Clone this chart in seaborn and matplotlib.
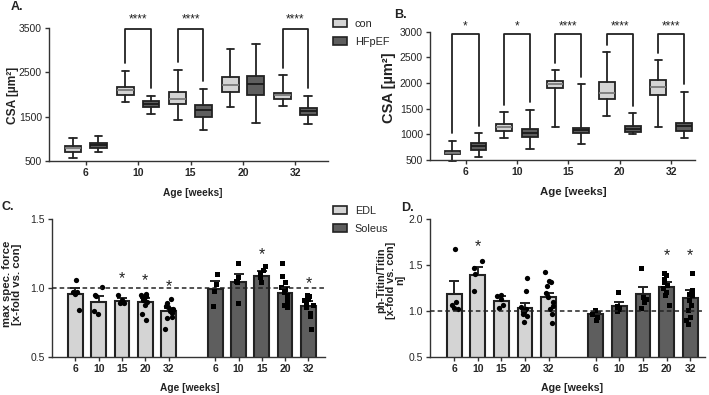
import numpy as np
import pandas as pd
import matplotlib
matplotlib.use('Agg')
import matplotlib.pyplot as plt
import seaborn as sns
from matplotlib.patches import Patch

# ---------------- data ----------------
ages = ['6', '10', '15', '20', '32']

# Panel A (box plots: whisker low, q1, median, q3, whisker high)
a_con_lo = [575, 1831, 1432, 1718, 1748]
a_con_q1 = [711, 1989, 1786, 2056, 1898]
a_con_med = [786, 2101, 1891, 2207, 1981]
a_con_q3 = [846, 2162, 2049, 2402, 2034]
a_con_hi = [1011, 2538, 2560, 3019, 2432]
a_hf_lo = [695, 1553, 1199, 1365, 1335]
a_hf_q1 = [801, 1711, 1500, 1996, 1538]
a_hf_med = [861, 1786, 1650, 2237, 1628]
a_hf_q3 = [914, 1853, 1756, 2417, 1703]
a_hf_hi = [1071, 1974, 2124, 3132, 1974]
a_sig = ['', '****', '****', '', '****']

# Panel B
b_con_lo = [480, 938, 1148, 1351, 1148]
b_con_q1 = [611, 1069, 1907, 1685, 1770]
b_con_med = [644, 1141, 1979, 1802, 1914]
b_con_q3 = [677, 1200, 2038, 2025, 2058]
b_con_hi = [873, 1429, 2247, 2601, 2444]
b_hf_lo = [565, 723, 814, 1004, 919]
b_hf_q1 = [696, 945, 1024, 1043, 1069]
b_hf_med = [768, 1017, 1082, 1109, 1154]
b_hf_q3 = [840, 1096, 1122, 1161, 1226]
b_hf_hi = [1024, 1482, 1973, 1416, 1829]
b_sig = ['*', '*', '****', '****', '****']

# Panel C (max spec. force)
c_edl_mean = [0.96, 0.90, 0.905, 0.895, 0.835]
c_edl_sem = [0.04, 0.044, 0.022, 0.032, 0.023]
c_sol_mean = [0.995, 1.045, 1.09, 0.966, 0.871]
c_sol_sem = [0.059, 0.055, 0.03, 0.04, 0.032]
c_edl_pts = [
    [1.06, 0.97, 0.97, 0.96, 0.84],
    [1.01, 0.95, 0.94, 0.83, 0.81],
    [0.95, 0.91, 0.90, 0.89, 0.89],
    [0.96, 0.95, 0.94, 0.93, 0.92, 0.91, 0.90, 0.88, 0.81, 0.77],
    [0.92, 0.89, 0.87, 0.86, 0.85, 0.84, 0.83, 0.82, 0.79, 0.78, 0.70],
]
c_sol_pts = [
    [1.10, 1.03, 0.98, 0.87],
    [1.18, 1.08, 1.05, 1.04, 0.89],
    [1.16, 1.13, 1.11, 1.08, 1.04],
    [1.18, 1.09, 1.04, 1.01, 0.99, 0.97, 0.95, 0.93, 0.92, 0.90, 0.88, 0.86],
    [0.95, 0.94, 0.93, 0.92, 0.91, 0.89, 0.88, 0.86, 0.82, 0.80, 0.70],
]
c_edl_star = [None, None, 1.066, 1.054, 1.01]
c_sol_star = [None, None, 1.24, None, 1.034]

# Panel D (ph-Titin/Titin)
d_edl_mean = [1.184, 1.393, 1.107, 1.037, 1.15]
d_edl_sem = [0.143, 0.085, 0.055, 0.055, 0.045]
d_sol_mean = [0.963, 1.051, 1.18, 1.257, 1.136]
d_sol_sem = [0.022, 0.048, 0.077, 0.063, 0.09]
d_edl_pts = [
    [1.67, 1.10, 1.07, 1.03, 1.02],
    [1.54, 1.47, 1.40, 1.22],
    [1.17, 1.16, 1.13, 1.07, 1.03],
    [1.36, 1.22, 1.04, 1.02, 1.00, 0.99, 0.97, 0.95, 0.88],
    [1.42, 1.33, 1.31, 1.27, 1.20, 1.15, 1.10, 1.05, 1.02, 0.97, 0.87],
]
d_sol_pts = [
    [1.01, 0.97, 0.93, 0.90],
    [1.21, 1.05, 1.03, 1.02, 1.00],
    [1.47, 1.15, 1.13, 1.10, 1.03],
    [1.41, 1.39, 1.35, 1.32, 1.28, 1.25, 1.21, 1.17, 1.06],
    [1.41, 1.23, 1.21, 1.19, 1.17, 1.12, 1.06, 1.01, 0.93, 0.90, 0.86],
]
d_edl_star = [None, 1.70, None, None, None]
d_sol_star = [None, None, None, 1.60, 1.60]

# ---------------- style ----------------
sns.set_style('ticks')
plt.rcParams['font.family'] = ['Liberation Sans', 'DejaVu Sans']
plt.rcParams['axes.linewidth'] = 1.0
plt.rcParams['axes.edgecolor'] = '#333333'

LIGHT = '#d4d4d4'
DARK = '#5e5e5e'
EDGE = '#222222'

W, H = 709, 395
fig = plt.figure(figsize=(W / 100, H / 100), dpi=100)


def rect(x0, x1, ytop, ybot):
    return [x0 / W, 1 - ybot / H, (x1 - x0) / W, (ybot - ytop) / H]


axA = fig.add_axes(rect(49, 328, 28, 161))
axB = fig.add_axes(rect(430, 695, 31.7, 160))
axC = fig.add_axes(rect(52, 325, 219, 357))
axD = fig.add_axes(rect(430, 705, 219, 357))


def style_axis(ax):
    sns.despine(ax=ax)
    ax.tick_params(axis='both', length=3, width=1.0, color='#333333', pad=2)
    ax.tick_params(axis='y', labelsize=7.5)
    ax.tick_params(axis='x', labelsize=7.5)
    for lab in ax.get_xticklabels():
        lab.set_fontweight('bold')


def boxes(ax, lo, q1, med, q3, hi, pos, w, fc, medc):
    stats = [dict(whislo=lo[i], q1=q1[i], med=med[i], q3=q3[i], whishi=hi[i], fliers=[])
             for i in range(len(lo))]
    art = ax.bxp(stats, positions=pos, widths=w, patch_artist=True, showfliers=False,
                 manage_ticks=False, capwidths=w * 0.45,
                 boxprops=dict(facecolor=fc, edgecolor=EDGE, linewidth=1.3),
                 medianprops=dict(color=medc, linewidth=1.3),
                 whiskerprops=dict(color=EDGE, linewidth=1.3),
                 capprops=dict(color=EDGE, linewidth=1.3))
    for k in art:
        for a in art[k]:
            a.set_clip_on(False)


def box_panel(ax, con, hf, sig, off, w, ylim, yticks, top, star_y, gap):
    x = np.arange(len(ages))
    boxes(ax, *con, x - off, w, LIGHT, '#7a7a7a')
    boxes(ax, *hf, x + off, w, DARK, '#1a1a1a')
    for i, s in enumerate(sig):
        if not s:
            continue
        xl, xr = x[i] - off, x[i] + off
        yl = con[4][i] + gap
        yr = hf[4][i] + gap
        ax.plot([xl, xl, xr, xr], [yl, top, top, yr], color=EDGE, lw=1.3, clip_on=False)
        ax.text(x[i], star_y, s, ha='center', va='center', fontsize=8.5, color='#222222',
                clip_on=False)
    ax.set_ylim(*ylim)
    ax.set_yticks(yticks)
    ax.set_xticks(x)
    ax.set_xticklabels(ages)
    style_axis(ax)


box_panel(axA,
          (a_con_lo, a_con_q1, a_con_med, a_con_q3, a_con_hi),
          (a_hf_lo, a_hf_q1, a_hf_med, a_hf_q3, a_hf_hi),
          a_sig, 0.243, 0.32, (500, 3500), [500, 1500, 2500, 3500], 3470, 3700, 170)
axA.set_xlim(-0.7, 4.62)

box_panel(axB,
          (b_con_lo, b_con_q1, b_con_med, b_con_q3, b_con_hi),
          (b_hf_lo, b_hf_q1, b_hf_med, b_hf_q3, b_hf_hi),
          b_sig, 0.253, 0.31, (500, 3000), [500, 1000, 1500, 2000, 2500, 3000], 2950, 3110, 145)
axB.set_xlim(-0.69, 4.46)


def bar_panel(ax, edl_mean, edl_sem, sol_mean, sol_sem, edl_pts, sol_pts,
              edl_star, sol_star, ylim, yticks):
    pos_e = np.arange(5).astype(float)
    pos_s = pos_e + 6
    df = pd.DataFrame({
        'pos': np.concatenate([pos_e, pos_s]),
        'val': edl_mean + sol_mean,
        'muscle': ['EDL'] * 5 + ['Soleus'] * 5,
    })
    sns.barplot(data=df, x='pos', y='val', hue='muscle', native_scale=True, dodge=False,
                palette={'EDL': LIGHT, 'Soleus': DARK}, width=0.63, edgecolor=EDGE,
                linewidth=1.5, errorbar=None, legend=False, ax=ax, zorder=2)
    ax.errorbar(pos_e, edl_mean, yerr=[np.zeros(5), edl_sem], fmt='none', ecolor=EDGE,
                elinewidth=1.4, capsize=3.5, capthick=1.4, zorder=3)
    ax.errorbar(pos_s, sol_mean, yerr=[np.zeros(5), sol_sem], fmt='none', ecolor=EDGE,
                elinewidth=1.4, capsize=3.5, capthick=1.4, zorder=3)
    pe = pd.DataFrame([(pos_e[i], v) for i in range(5) for v in edl_pts[i]], columns=['pos', 'val'])
    ps = pd.DataFrame([(pos_s[i], v) for i in range(5) for v in sol_pts[i]], columns=['pos', 'val'])
    np.random.seed(3)
    sns.stripplot(data=pe, x='pos', y='val', native_scale=True, jitter=0.2, color='black',
                  marker='o', size=3.8, ax=ax, zorder=4)
    sns.stripplot(data=ps, x='pos', y='val', native_scale=True, jitter=0.2, color='black',
                  marker='s', size=3.6, ax=ax, zorder=4)
    ax.axhline(1.0, color='#222222', lw=1.1, ls=(0, (3, 2)), zorder=5)
    for i in range(5):
        if edl_star[i] is not None:
            ax.text(pos_e[i], edl_star[i], '*', ha='center', va='center', fontsize=11.5,
                    color='#222222')
        if sol_star[i] is not None:
            ax.text(pos_s[i], sol_star[i], '*', ha='center', va='center', fontsize=11.5,
                    color='#222222')
    ax.set_ylim(*ylim)
    ax.set_yticks(yticks)
    ax.set_yticklabels([f'{t:.1f}' for t in yticks])
    ax.set_xticks(np.concatenate([pos_e, pos_s]))
    ax.set_xticklabels(ages + ages)
    ax.set_xlabel('')
    ax.set_ylabel('')
    style_axis(ax)


bar_panel(axC, c_edl_mean, c_edl_sem, c_sol_mean, c_sol_sem, c_edl_pts, c_sol_pts,
          c_edl_star, c_sol_star, (0.5, 1.5), [0.5, 1.0, 1.5])
axC.set_xlim(-1.0, 10.71)
bar_panel(axD, d_edl_mean, d_edl_sem, d_sol_mean, d_sol_sem, d_edl_pts, d_sol_pts,
          d_edl_star, d_sol_star, (0.5, 2.0), [0.5, 1.0, 1.5, 2.0])
axD.set_xlim(-1.03, 10.63)

for ax in (axA, axB):
    ax.set_xlabel('')
    ax.set_ylabel('')


def ftext(x, y, s, **kw):
    fig.text(x / W, 1 - y / H, s, **kw)


lab = dict(fontweight='bold', ha='center', va='center', color='#222222')
ftext(193, 193, 'Age [weeks]', fontsize=7.3, **lab)
ftext(573, 192, 'Age [weeks]', fontsize=8.2, **lab)
ftext(190, 388, 'Age [weeks]', fontsize=7.3, **lab)
ftext(572, 388, 'Age [weeks]', fontsize=7.7, **lab)
ftext(13, 95, 'CSA [µm²]', rotation=90, fontsize=8.6, **lab)
ftext(389, 88, 'CSA [µm²]', rotation=90, fontsize=10.5, **lab)
ftext(12, 284, 'max spec. force\n[x-fold vs. con]', rotation=90, linespacing=1.0,
      fontsize=8.2, **lab)
ftext(391, 280, 'ph-Titin/Titin\n[x-fold vs. con]\nn]', rotation=90, linespacing=0.95,
      fontsize=7.8, **lab)

pl = dict(fontsize=9, fontweight='bold', ha='center', va='center', color='#222222')
ftext(17, 7, 'A.', **pl)
ftext(400, 15, 'B.', **pl)
ftext(8, 207, 'C.', **pl)
ftext(407, 208, 'D.', **pl)

leg_kw = dict(loc='upper left', frameon=False, fontsize=7.8, handlelength=1.3,
              handleheight=0.8, handletextpad=0.7, labelspacing=0.72, borderaxespad=0,
              borderpad=0)
fig.legend(handles=[Patch(facecolor=LIGHT, edgecolor=EDGE, lw=1.2),
                    Patch(facecolor=DARK, edgecolor=EDGE, lw=1.2)],
           labels=['con', 'HFpEF'], bbox_to_anchor=(333 / W, 1 - 19 / H), **leg_kw)
fig.legend(handles=[Patch(facecolor=LIGHT, edgecolor=EDGE, lw=1.2),
                    Patch(facecolor=DARK, edgecolor=EDGE, lw=1.2)],
           labels=['EDL', 'Soleus'], bbox_to_anchor=(333 / W, 1 - 206 / H), **leg_kw)

fig.savefig('out.png', dpi=100)
